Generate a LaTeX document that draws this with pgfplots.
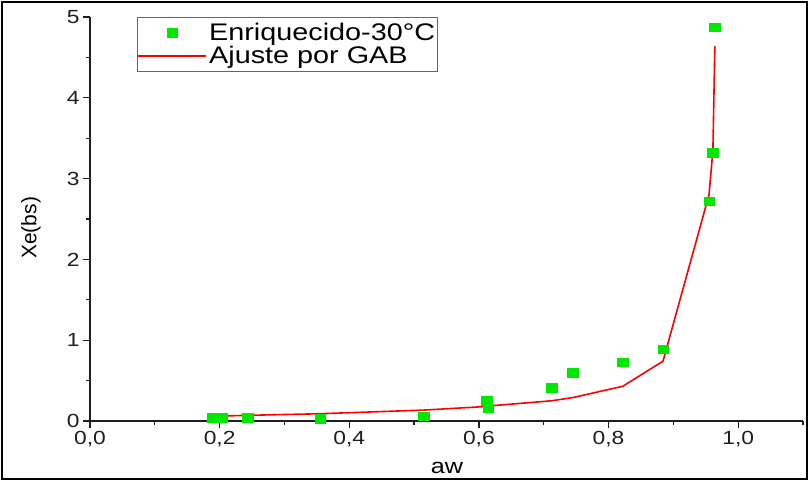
\documentclass[border=0pt]{standalone}
\usepackage{fontspec}
\setmainfont{Liberation Sans}[FakeStretch=1.2]
\newfontfamily\ylfont{Liberation Sans}
\usepackage{pgfplots}
\pgfplotsset{compat=1.18}
\definecolor{mygreen}{RGB}{0,232,0}
\definecolor{axgray}{RGB}{30,30,30}
\begin{document}
\begin{tikzpicture}
\begin{axis}[
 scale only axis, width=713pt, height=404pt,
 xmin=0, xmax=1.1, ymin=0, ymax=5,
 axis x line*=bottom, axis y line*=left,
 axis line style={-, line width=1.2pt, axgray},
 xtick={0,0.2,0.4,0.6,0.8,1.0},
 minor xtick={0.1,0.3,0.5,0.7,0.9,1.1},
 ytick={0,1,2,3,4,5},
 minor ytick={0.5,1.5,2.5,3.5,4.5},
 tick align=outside,
 major tick length=7pt, minor tick length=4pt,
 every tick/.style={line width=1.2pt, axgray},
 /pgf/number format/assume math mode=true,
 x tick label style={/pgf/number format/use comma, /pgf/number format/fixed, /pgf/number format/fixed zerofill, /pgf/number format/precision=1},
 tick label style={font=\fontsize{19}{22}\selectfont, text=axgray},
 xlabel={aw},
 xlabel style={at={(axis description cs:0.5007,0)}, anchor=center, yshift=-47pt, font=\fontsize{21}{24}\selectfont},
 ylabel={\ylfont Xe(bs)},
 ylabel style={at={(axis description cs:-0.083,0.478)}, anchor=center, font=\fontsize{21}{24}\selectfont},
 legend image code/.code={\draw[mark repeat=2,mark phase=2,#1] plot coordinates {(0pt,0pt) (34pt,0pt) (68pt,0pt)};},
 legend style={at={(axis description cs:0.066,1)}, anchor=north west, draw=gray!80!black, line width=1pt, inner xsep=0pt, inner ysep=4pt, font=\fontsize{24}{26}\selectfont, row sep=0pt, cells={anchor=west}},
 legend cell align=left,
]
\addplot[only marks, mark=square*, mark size=4.2pt, mygreen, mark options={xscale=1.25, draw=mygreen, fill=mygreen}] table {
x y
0.189 0.04
0.203 0.04
0.243 0.04
0.355 0.03
0.515 0.06
0.612 0.25
0.614 0.16
0.712 0.41
0.745 0.60
0.822 0.73
0.884 0.89
0.955 2.72
0.961 3.32
0.964 4.87
};
\addlegendentry{Enriquecido-30°C\hspace{24pt}}
\addplot[red, line width=1.6pt, mark=none] table {
x y
0.196 0.06
0.243 0.07
0.355 0.09
0.515 0.135
0.612 0.18
0.614 0.185
0.712 0.25
0.745 0.29
0.822 0.43
0.884 0.74
0.955 2.80
0.961 3.35
0.964 4.64
};
\addlegendentry{Ajuste por GAB}
\end{axis}
\draw[line width=1.3pt] ([shift={(-88pt,-58pt)}]current axis.south west) rectangle ([shift={(4pt,15pt)}]current axis.north east);
\pgfresetboundingbox
\useasboundingbox ([shift={(-90pt,-60pt)}]current axis.south west) rectangle ([shift={(6pt,17pt)}]current axis.north east);
\end{tikzpicture}
\end{document}
